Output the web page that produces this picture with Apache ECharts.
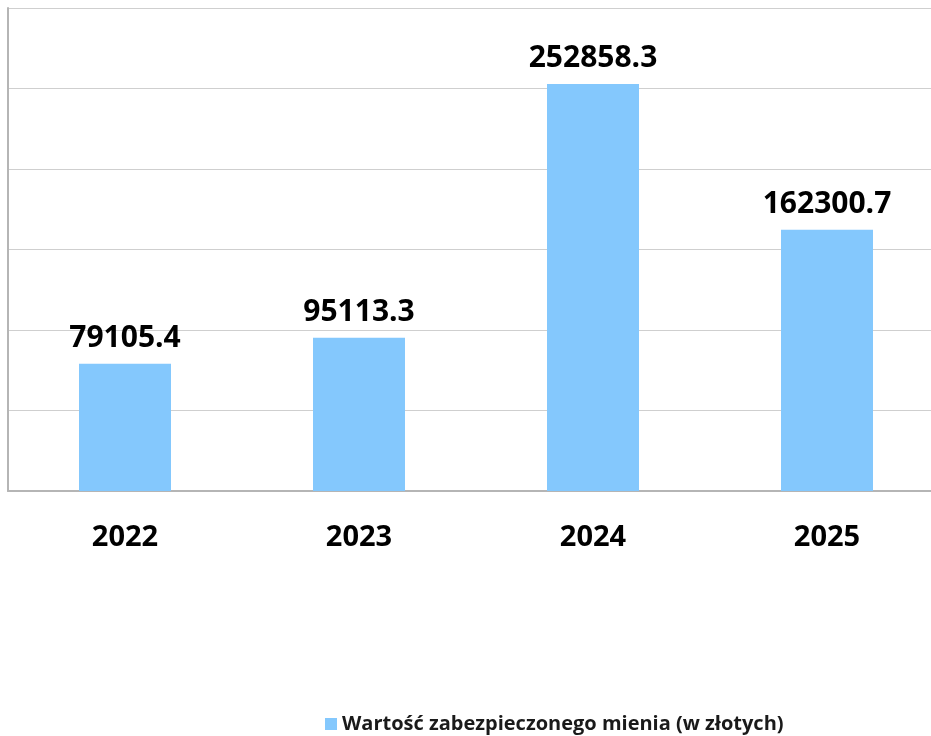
<!DOCTYPE html>
<html>
<head>
<meta charset="utf-8">
<script src="https://cdn.jsdelivr.net/npm/echarts@6/dist/echarts.min.js"></script>
<style>
  html, body { margin: 0; padding: 0; background: #fff; overflow: hidden; }
  #chart { width: 944px; height: 736px; }
</style>
</head>
<body>
<div id="chart"></div>
<script>
  var years = ['2022', '2023', '2024', '2025']
  var values = [79105.4, 95113.3, 252858.3, 162300.7]
  var seriesName = 'Wartość zabezpieczonego mienia (w złotych)'

  // the plot runs a little past the right edge of the window, like the original
  var myChart = echarts.init(document.getElementById('chart'))
  myChart.setOption({
    textStyle: { fontFamily: 'Open Sans' },
    legend: {
      data: [seriesName],
      left: 320,
      top: 709,
      itemWidth: 12,
      itemHeight: 12,
      itemGap: 7,
      icon: 'rect',
      textStyle: { fontSize: 20, fontWeight: 'bold', color: '#1a1a1a', fontFamily: 'Open Sans' }
    },
    grid: {
      left: 8,
      right: 0,
      top: 8,
      bottom: 245
    },
    xAxis: {
      type: 'category',
      data: years,
      axisTick: { show: false },
      axisLine: { lineStyle: { color: '#b5b5b5', width: 2 } },
      axisLabel: {
        margin: 32,
        fontSize: 29,
        fontWeight: 'bold',
        color: '#000',
        fontFamily: 'Open Sans'
      }
    },
    yAxis: {
      type: 'value',
      min: 0,
      max: 300000,
      interval: 50000,
      axisLabel: { show: false },
      axisTick: { show: false },
      axisLine: { show: true, lineStyle: { color: '#b5b5b5', width: 2 } },
      splitLine: { lineStyle: { color: '#cfcfcf', width: 1 } }
    },
    series: [
      {
        name: seriesName,
        type: 'bar',
        barWidth: 92,
        color: ['#84c8fd'],
        data: values,
        label: {
          show: true,
          position: 'top',
          distance: 10,
          fontSize: 30,
          fontWeight: 'bold',
          color: '#000',
          fontFamily: 'Open Sans'
        }
      }
    ]
  })
</script>
</body>
</html>
